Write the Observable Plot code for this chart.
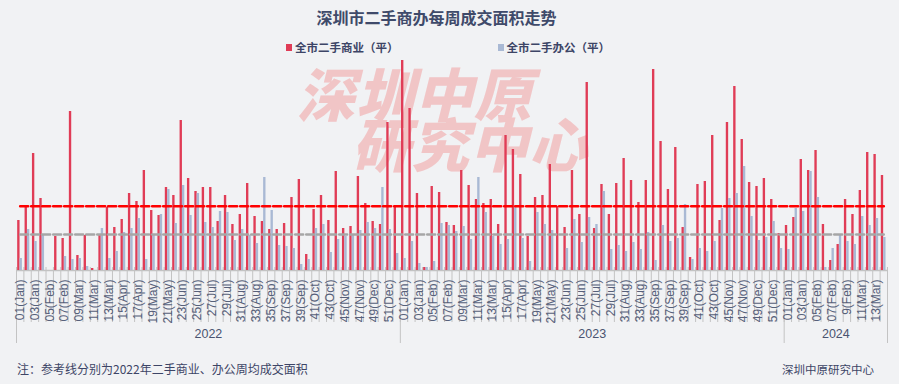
<!DOCTYPE html>
<html><head><meta charset="utf-8">
<script src="https://cdn.jsdelivr.net/npm/d3@7"></script>
<script src="https://cdn.jsdelivr.net/npm/@observablehq/plot@0.6"></script>
<style>
html,body{margin:0;padding:0;}
body{background:#f1f2f4;width:899px;height:384px;overflow:hidden;position:relative;font-family:"Noto Sans CJK SC","Liberation Sans",sans-serif;}
#title{position:absolute;left:0;width:873px;top:6px;text-align:center;font-size:16px;font-weight:bold;color:#3f4a6a;line-height:22px;}
#legend{position:absolute;top:38px;left:286px;font-size:11.5px;font-weight:bold;color:#3d4566;line-height:18px;white-space:nowrap;}
#legend span.sw{display:inline-block;width:6px;height:7px;vertical-align:middle;margin-right:3px;position:relative;top:-1px;}
#wm{position:absolute;left:0;top:0;color:#f1c5c6;font-weight:900;font-size:58px;line-height:58px;white-space:nowrap;}
#wm div{position:absolute;transform:skewX(-14deg);letter-spacing:1px;}
#chart{position:absolute;left:0;top:55px;}
#note{position:absolute;left:17px;top:360px;font-size:12px;color:#3d4566;line-height:18px;}
#src{position:absolute;left:782px;top:360px;font-size:11.5px;color:#3d4566;line-height:18px;}
</style></head><body>
<div id="wm"><div style="left:303px;top:63px;">深圳中原</div><div style="left:358px;top:113px;">研究中心</div></div>
<div id="title">深圳市二手商办每周成交面积走势</div>
<div id="legend"><span class="sw" style="background:#e03c56"></span>全市二手商业（平）<span style="display:inline-block;width:99px"></span><span class="sw" style="background:#a9b9d4"></span>全市二手办公（平）</div>
<div id="chart"></div>
<div id="note">注：参考线分别为2022年二手商业、办公周均成交面积</div>
<div id="src">深圳中原研究中心</div>
<script>
// ---- data ----
const years = ["2022", "2023", "2024"];
const weeksPerYear = [52, 52, 14];
const tickLabelsFullYear = ["01(Jan)","03(Jan)","05(Feb)","07(Feb)","09(Mar)","11(Mar)","13(Mar)","15(Apr)","17(Apr)","19(May)","21(May)","23(Jun)","25(Jun)","27(Jul)","29(Jul)","31(Aug)","33(Aug)","35(Sep)","37(Sep)","39(Sep)","41(Oct)","43(Oct)","45(Nov)","47(Nov)","49(Dec)","51(Dec)"];
const tickLabels2024 = ["01(Jan)","03(Jan)","05(Feb)","07(Feb)","9(Feb)","11(Mar)","13(Mar)"];
const tickLabelsByYear = [tickLabelsFullYear, tickLabelsFullYear, tickLabels2024];
// 全市二手商业（平）
const commercial = [
  50,64,117,72,0,34,32,159,15,35,2,36,63,43,51,77,69,100,60,55,83,75,150,92,79,83,83,49,75,46,56,87,54,49,41,41,47,73,91,16,61,75,50,99,42,44,94,67,49,46,148,64,
  210,162,77,3,84,78,48,45,100,85,71,67,71,46,135,121,96,34,73,75,106,64,43,100,56,188,42,86,56,87,112,90,68,90,201,129,81,123,43,13,86,89,135,50,148,184,131,88,84,92,71,37,
  45,53,111,100,120,46,10,26,71,56,80,118,116,95
];
// 全市二手办公（平）
const office = [
  12,41,29,36,0,0,14,11,12,4,0,42,12,19,38,42,52,11,35,56,81,47,85,55,77,48,43,59,58,30,41,35,27,93,60,25,24,22,6,11,42,46,18,31,34,35,40,48,42,83,41,17,
  12,29,7,3,9,47,45,39,44,31,93,58,34,26,31,63,32,9,58,46,40,0,22,51,28,53,46,79,21,25,19,28,21,38,10,45,29,32,66,11,22,19,29,62,72,77,104,54,30,33,49,22,
  21,62,59,99,73,3,22,36,29,26,54,45,52,33
];

// ---- derived ----
const N = commercial.length;
const data = commercial.map((c, i) => ({i, c, o: office[i]}));
const yearStarts = [];
{ let s = 0; for (const w of weeksPerYear) { yearStarts.push(s); s += w; } }
const yearBounds = [...yearStarts, N];
const yearCenters = yearStarts.map((s, k) => s + weeksPerYear[k] / 2);
const yearMap = new Map(yearCenters.map((c, k) => [c, years[k]]));
const labelMap = new Map();
tickLabelsByYear.forEach((labs, k) => labs.forEach((l, j) => labelMap.set(yearStarts[k] + 2 * j + 0.5, l)));
const labelTicks = [...labelMap.keys()];
const mean2022C = d3.mean(commercial.slice(0, weeksPerYear[0]));
const mean2022O = d3.mean(office.slice(0, weeksPerYear[0]));
const red = "#e03c56", blue = "#a9b9d4";

const chart = Plot.plot({
  width: 899, height: 300,
  marginLeft: 16, marginRight: 12, marginTop: 0, marginBottom: 85,
  style: {background: "transparent", fontFamily: "'Liberation Sans', Arial, sans-serif", fontSize: "12px", overflow: "visible"},
  x: {domain: [0, N]},
  y: {domain: [0, 215], axis: null},
  marks: [
    Plot.axisX({ticks: d3.range(0, N + 1), tickSize: 52, tickFormat: () => "", stroke: "#c3c3c3"}),
    Plot.axisX({ticks: yearBounds, tickSize: 73, tickFormat: () => "", stroke: "#c3c3c3"}),
    Plot.axisX({ticks: labelTicks, tickSize: 0, tickPadding: 9, tickRotate: -90, tickFormat: d => labelMap.get(d), fill: "#56607a", fontSize: 12}),
    Plot.axisX({ticks: yearCenters, tickSize: 0, tickPadding: 59, tickFormat: d => yearMap.get(d), fill: "#4a5470", fontSize: 12.5}),
    Plot.ruleX(d3.range(0, N + 1), {y1: 0, y2: 3, stroke: "#c3c3c3"}),
    Plot.ruleY([0], {stroke: "#c3c3c3", strokeWidth: 1.5}),
    Plot.rect(data, {x1: d => d.i + 0.16, x2: d => d.i + 0.48, y1: 0, y2: "c", fill: red}),
    Plot.rect(data, {x1: d => d.i + 0.48, x2: d => d.i + 0.80, y1: 0, y2: "o", fill: blue}),
    Plot.lineY(data, {x: d => d.i + 0.5, y: () => mean2022O, stroke: "#a6a6a6", strokeWidth: 2.4, strokeDasharray: "8,3"}),
    Plot.lineY(data, {x: d => d.i + 0.5, y: () => mean2022C, stroke: "#ff0000", strokeWidth: 2.6, strokeDasharray: "8,3"})
  ]
});
document.getElementById("chart").appendChild(chart);
</script>
</body></html>
